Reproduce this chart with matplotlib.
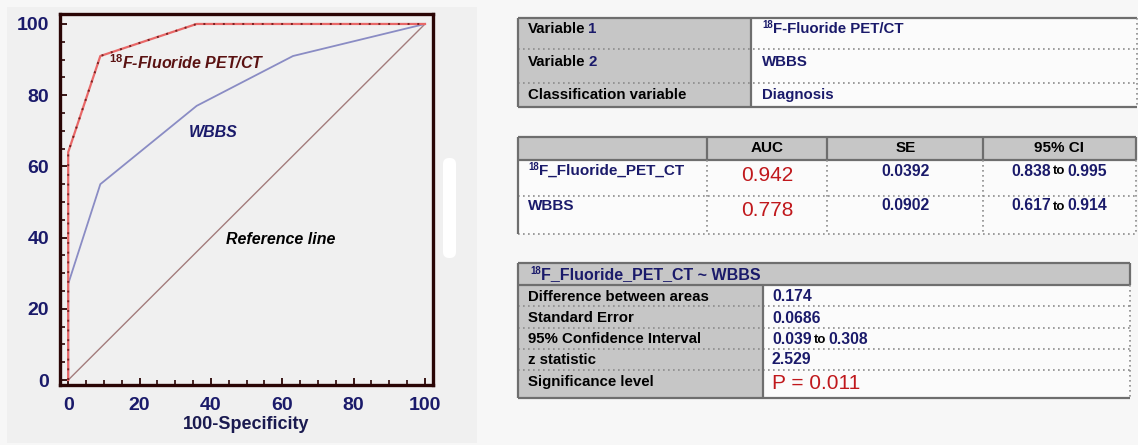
import matplotlib
matplotlib.use("Agg")
import matplotlib.pyplot as plt
from matplotlib.patches import Rectangle, FancyBboxPatch
from matplotlib.ticker import MultipleLocator

plt.rcParams['font.family'] = ['Liberation Sans', 'DejaVu Sans']
plt.rcParams['mathtext.fontset'] = 'custom'
plt.rcParams['mathtext.rm'] = 'Liberation Sans'
plt.rcParams['mathtext.bf'] = 'Liberation Sans:bold'
plt.rcParams['mathtext.it'] = 'Liberation Sans:italic'

# ---------------- data ----------------
fpr_pet = [0, 0, 9, 36, 100]
tpr_pet = [0, 64, 91, 100, 100]
fpr_wbbs = [0, 0, 9, 36, 63, 100]
tpr_wbbs = [0, 27, 55, 77, 91, 100]
ref_x = [0, 100]
ref_y = [0, 100]
axis_ticks = [0, 20, 40, 60, 80, 100]
x_label = "100-Specificity"

t1_labels = ["Variable 1", "Variable 2", "Classification variable"]
t1_values = ["F-Fluoride PET/CT", "WBBS", "Diagnosis"]

t2_header = ["AUC", "SE", "95% CI"]
t2_rows = ["F_Fluoride_PET_CT", "WBBS"]
t2_auc = ["0.942", "0.778"]
t2_se = ["0.0392", "0.0902"]
t2_ci_lo = ["0.838", "0.617"]
t2_ci_hi = ["0.995", "0.914"]

t3_title = "F_Fluoride_PET_CT ~ WBBS"
t3_labels = ["Difference between areas", "Standard Error",
             "95% Confidence Interval", "z statistic", "Significance level"]
t3_values = ["0.174", "0.0686", ("0.039", "0.308"), "2.529", "P = 0.011"]

NAVY = '#1a1a6a'
RED = '#c0181c'
GRAY = '#c6c6c6'
BORDER = '#6e6e6e'
DOT = '#8c8c8c'
CELL = '#fbfbfb'

W, H = 1138, 445
fig = plt.figure(figsize=(W / 100, H / 100), dpi=100, facecolor='#f7f7f7')
ov = fig.add_axes([0, 0, 1, 1])
ov.set_xlim(0, W)
ov.set_ylim(H, 0)
ov.axis('off')
ov.set_zorder(0)

# left panel background
ov.add_patch(Rectangle((7, 7), 470, 436, color='#f0f0f0', lw=0))
ov.add_patch(FancyBboxPatch((443, 158), 13, 100,
                            boxstyle='round,pad=0,rounding_size=6',
                            color='white', lw=0))

# ---------------- ROC plot ----------------
ax = fig.add_axes([60 / W, (H - 385) / H, 372.5 / W, 371 / H])
ax.set_facecolor('none')
ax.set_zorder(1)
ax.plot(ref_x, ref_y, color='#a37c7c', lw=1.0)
ax.plot(fpr_wbbs, tpr_wbbs, color='#8a8cc4', lw=1.3)
ax.plot(fpr_pet, tpr_pet, color='#e86868', lw=1.6)
ax.plot(fpr_pet, tpr_pet, color='#7a2020', lw=1.4, linestyle=(0, (1, 4)))
ax.set_xlim(-2.3, 102.1)
ax.set_ylim(-1.4, 102.8)
ax.xaxis.set_minor_locator(MultipleLocator(5))
ax.yaxis.set_minor_locator(MultipleLocator(5))
ax.set_xticks(axis_ticks)
ax.set_yticks(axis_ticks)
ax.set_xticklabels([str(v) for v in axis_ticks])
ax.set_yticklabels([str(v) for v in axis_ticks])
ax.tick_params(which='major', direction='in', length=5, width=1.3,
               color='#2a0505', labelsize=14, labelcolor=NAVY, pad=8)
ax.tick_params(which='minor', direction='in', length=3.5, width=1.2,
               color='#2a0505')
for lab in ax.get_xticklabels() + ax.get_yticklabels():
    lab.set_fontweight('bold')
ax.tick_params(axis='x', pad=9)
for sp in ax.spines.values():
    sp.set_color('#2a0505')
    sp.set_linewidth(2.4)
ax.set_xlabel(x_label, fontsize=13, fontweight='bold', color='#1a1a50', labelpad=1)

ax.text(11.5, 89, r"$^{\mathbf{18}}$F-Fluoride PET/CT", fontsize=11.5,
        fontweight='bold', style='italic', color='#5a1212', va='center', ha='left')
ax.text(40.5, 69.5, "WBBS", fontsize=11.5, fontweight='bold', style='italic',
        color=NAVY, va='center', ha='center')
ax.text(59.5, 39.6, "Reference line", fontsize=11.5, fontweight='bold',
        style='italic', color='black', va='center', ha='center')

# ---------------- table helpers ----------------
renderer = fig.canvas.get_renderer()


def runs(x, y, parts, ha='left'):
    """parts: list of (text, dict(kw), dy, gap_after)"""
    objs = []
    widths = []
    for s, kw, dy, gap in parts:
        t = ov.text(0, y + dy, s, va='center', ha='left', **kw)
        bb = t.get_window_extent(renderer=renderer)
        objs.append(t)
        widths.append(bb.width + gap)
    total = sum(widths)
    x0 = x - total / 2 if ha == 'center' else x
    for t, w in zip(objs, widths):
        t.set_x(x0)
        x0 += w


def hline(x0, x1, y, dotted=False, lw=1.6):
    if dotted:
        ov.plot([x0, x1], [y, y], color=DOT, lw=1.2, linestyle=(0, (1, 2)))
    else:
        ov.plot([x0, x1], [y, y], color=BORDER, lw=lw, solid_capstyle='butt')


def vline(x, y0, y1, dotted=False, lw=1.6):
    if dotted:
        ov.plot([x, x], [y0, y1], color=DOT, lw=1.2, linestyle=(0, (1, 2)))
    else:
        ov.plot([x, x], [y0, y1], color=BORDER, lw=lw, solid_capstyle='butt')


def B(size=10.8, color='black'):
    return dict(fontsize=size, fontweight='bold', color=color)


SUP = dict(fontsize=7, fontweight='bold', color=NAVY)

# ---------------- table 1 ----------------
L, R1 = 518, 1137
top1, bot1, split1 = 18.3, 107, 750.7
rows1 = [18.3, 49.3, 83.3, 107]
ov.add_patch(Rectangle((L, top1), split1 - L, bot1 - top1, color=GRAY, lw=0))
ov.add_patch(Rectangle((split1, top1), R1 - split1, bot1 - top1, color=CELL, lw=0))
for yy in rows1[1:-1]:
    hline(L, R1, yy, dotted=True)
hline(L, R1, top1)
hline(L, R1, bot1)
vline(L, top1, bot1)
vline(split1, top1, bot1)
vline(R1, top1, bot1, dotted=True)
t1_y = [29, 61.7, 95]
for i, (lab, val) in enumerate(zip(t1_labels, t1_values)):
    word, _, num = lab.rpartition(' ')
    if num.isdigit():
        runs(528, t1_y[i], [(word, B(), 0, 3), (num, B(color=NAVY), 0, 0)])
    else:
        runs(528, t1_y[i], [(lab, B(), 0, 0)])
    if i == 0:
        runs(762, t1_y[i], [("18", SUP, -3.5, 0.5), (val, B(color=NAVY), 0, 0)])
    else:
        runs(762, t1_y[i], [(val, B(color=NAVY), 0, 0)])

# ---------------- table 2 ----------------
R2 = 1136
top2, hb2, mid2, bot2 = 136.7, 160, 196, 234.3
cols2 = [L, 707.3, 827.3, 982.7, R2]
ov.add_patch(Rectangle((L, top2), R2 - L, hb2 - top2, color=GRAY, lw=0))
ov.add_patch(Rectangle((L, hb2), R2 - L, bot2 - hb2, color=CELL, lw=0))
hline(L, R2, top2)
hline(L, R2, hb2)
hline(L, R2, mid2, dotted=True)
hline(L, R2, bot2, dotted=True)
for cx in cols2:
    vline(cx, top2, hb2)
vline(L, hb2, bot2)
for cx in cols2[1:]:
    vline(cx, hb2, bot2, dotted=True)
centers2 = [767.3, 905.5, 1059.5]
for c, h in zip(centers2, t2_header):
    runs(c, 148, [(h, B(11), 0, 0)], ha='center')
row_y2 = [171, 206]
for i in range(2):
    if i == 0:
        runs(528, row_y2[i], [("18", SUP, -3.5, 0.5), (t2_rows[i], B(11, NAVY), 0, 0)])
    else:
        runs(528, row_y2[i], [(t2_rows[i], B(11, NAVY), 0, 0)])
    ov.text(centers2[0], row_y2[i] + 4.5, t2_auc[i], fontsize=15, color=RED,
            ha='center', va='center')
    runs(centers2[1], row_y2[i], [(t2_se[i], B(11.3, NAVY), 0, 0)], ha='center')
    runs(centers2[2], row_y2[i], [(t2_ci_lo[i], B(11.3, NAVY), 0, 2),
                                  ("to", B(9.5, 'black'), 0.5, 2),
                                  (t2_ci_hi[i], B(11.3, NAVY), 0, 0)], ha='center')

# ---------------- table 3 ----------------
R3 = 1130
top3, hb3, bot3, split3 = 263.3, 285, 397.7, 763.3
rows3 = [285, 305.7, 327.7, 349, 370, 397.7]
ov.add_patch(Rectangle((L, top3), R3 - L, hb3 - top3, color=GRAY, lw=0))
ov.add_patch(Rectangle((L, hb3), split3 - L, bot3 - hb3, color=GRAY, lw=0))
ov.add_patch(Rectangle((split3, hb3), R3 - split3, bot3 - hb3, color=CELL, lw=0))
hline(L, R3, top3)
hline(L, R3, hb3)
hline(L, R3, bot3)
for yy in rows3[1:-1]:
    hline(L, R3, yy, dotted=True)
vline(L, top3, bot3)
vline(R3, top3, hb3)
vline(split3, hb3, bot3)
vline(R3, hb3, bot3, dotted=True)
runs(530, 274.5, [("18", SUP, -3.5, 0.5), (t3_title, B(11.5, NAVY), 0, 0)])
lab_y3 = [296.7, 318.3, 339.3, 360, 381.7]
for i, (lab, val) in enumerate(zip(t3_labels, t3_values)):
    runs(528, lab_y3[i], [(lab, B(10.8), 0, 0)])
    if isinstance(val, tuple):
        runs(772, lab_y3[i], [(val[0], B(11.3, NAVY), 0, 2),
                              ("to", B(9.5, 'black'), 0.5, 2),
                              (val[1], B(11.3, NAVY), 0, 0)])
    elif val.startswith("P"):
        ov.text(772, lab_y3[i] + 2, val, fontsize=15, color=RED,
                ha='left', va='center')
    else:
        runs(772, lab_y3[i], [(val, B(11.3, NAVY), 0, 0)])

fig.savefig("out.png", dpi=100, facecolor=fig.get_facecolor())
